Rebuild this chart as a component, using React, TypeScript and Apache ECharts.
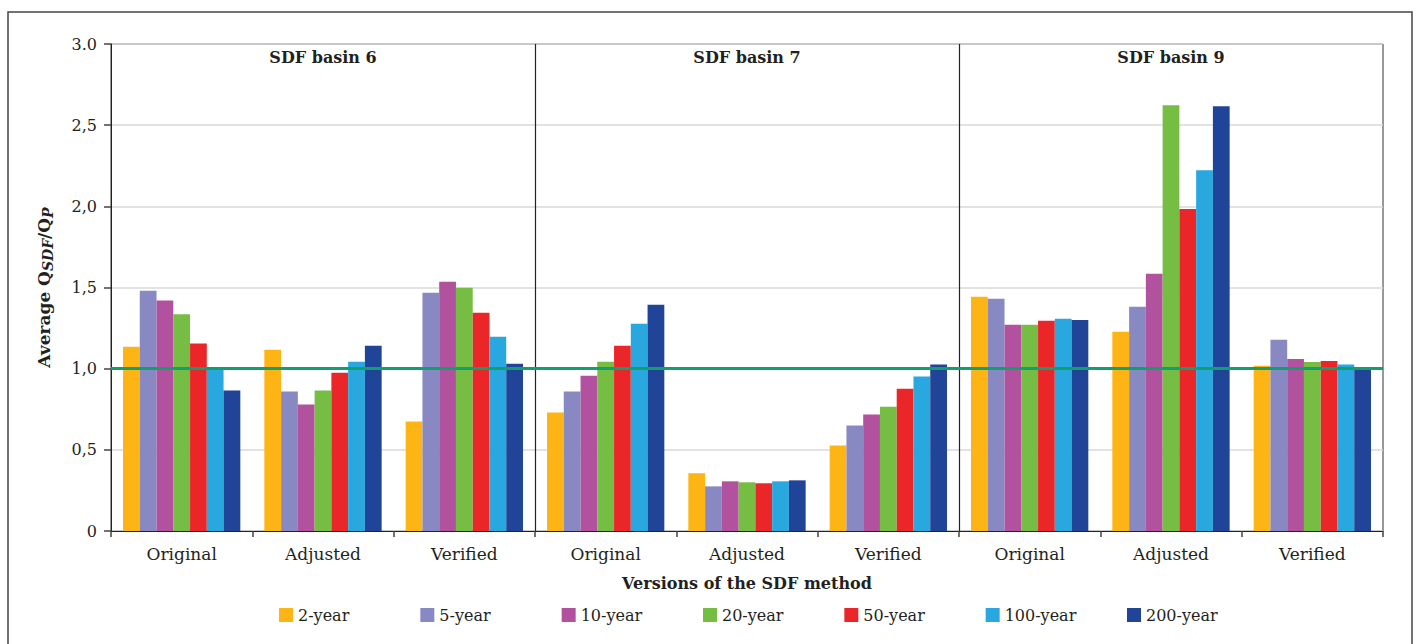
import React, { useEffect, useRef } from "react";
import * as echarts from "echarts";

const categories = [
  "Original", "Adjusted", "Verified",
  "Original", "Adjusted", "Verified",
  "Original", "Adjusted", "Verified",
];
const basinTitles = ["SDF basin 6", "SDF basin 7", "SDF basin 9"];
const seriesNames = ["2-year", "5-year", "10-year", "20-year", "50-year", "100-year", "200-year"];
const seriesColors = ["#FDB515", "#8888C2", "#B2529E", "#76BE43", "#EB2629", "#29A8E0", "#204497"];

// values per return period, across the 9 categories
const y2 = [1.135, 1.117, 0.674, 0.73, 0.355, 0.527, 1.443, 1.227, 1.018];
const y5 = [1.48, 0.859, 1.467, 0.859, 0.275, 0.65, 1.43, 1.381, 1.178];
const y10 = [1.42, 0.78, 1.535, 0.957, 0.306, 0.717, 1.27, 1.584, 1.06];
const y20 = [1.335, 0.865, 1.498, 1.043, 0.3, 0.766, 1.27, 2.622, 1.041];
const y50 = [1.155, 0.975, 1.344, 1.141, 0.294, 0.877, 1.295, 1.984, 1.047];
const y100 = [1.005, 1.043, 1.197, 1.277, 0.306, 0.951, 1.307, 2.222, 1.025];
const y200 = [0.865, 1.141, 1.031, 1.393, 0.312, 1.025, 1.3, 2.616, 1.006];
const seriesValues = [y2, y5, y10, y20, y50, y100, y200];

const yTickValues = [0, 0.5, 1, 1.5, 2, 2.5, 3];
const yTickLabels = ["0", "0,5", "1,0", "1,5", "2,0", "2,5", "3.0"];
const referenceValue = 1.0;
const basinBoundaries = [3, 6];

const FONT = "DejaVu Serif";
const TEXT = "#231f20";

const GRID = { left: 111, top: 44, right: 36, bottom: 113 };
const W = 1419;
const H = 644;

export default function App() {
  const ref = useRef<HTMLDivElement>(null);
  useEffect(() => {
    if (!ref.current) return;
    const chart = echarts.init(ref.current, null, { renderer: "svg" });
    const plotW = W - GRID.left - GRID.right;
    const third = plotW / 3;
    const catW = plotW / categories.length;

    const barSeries = seriesNames.map((name, i) => ({
      name,
      type: "bar",
      xAxisIndex: 0,
      yAxisIndex: 0,
      data: seriesValues[i],
      itemStyle: { color: seriesColors[i] },
      barGap: "0%",
      barCategoryGap: "17%",
      z: 2,
    }));

    const legends = seriesNames.map((name, i) => ({
      data: [name],
      left: 274 + i * catW,
      top: 602,
      icon: "rect",
      itemWidth: 14,
      itemHeight: 14,
      textStyle: { fontFamily: FONT, fontSize: 16, color: TEXT },
      selectedMode: false,
    }));

    const option: any = {
      animation: false,
      backgroundColor: "#ffffff",
      textStyle: { fontFamily: FONT, color: TEXT },
      grid: {
        left: GRID.left,
        top: GRID.top,
        right: GRID.right,
        bottom: GRID.bottom,
        show: true,
        borderColor: "#333",
        borderWidth: 1,
        backgroundColor: "transparent",
      },
      legend: legends,
      xAxis: [
        {
          type: "category",
          data: categories,
          axisLine: { show: true, lineStyle: { color: "#222", width: 1 } },
          axisTick: { show: true, alignWithLabel: false, length: 6, lineStyle: { color: "#444", width: 1.5 } },
          axisLabel: { fontFamily: FONT, fontSize: 17, color: TEXT, margin: 14 },
          name: "Versions of the SDF method",
          nameLocation: "middle",
          nameGap: 44,
          nameTextStyle: { fontFamily: FONT, fontSize: 16, fontWeight: "bold", color: TEXT },
        },
        {
          type: "value",
          min: 0,
          max: 9,
          show: false,
        },
      ],
      yAxis: {
        type: "value",
        min: 0,
        max: 3,
        interval: 0.5,
        axisLine: { show: true, lineStyle: { color: "#222", width: 1 } },
        axisTick: { show: true, length: 7, lineStyle: { color: "#444", width: 1.5 } },
        axisLabel: {
          fontFamily: FONT,
          fontSize: 16,
          color: TEXT,
          margin: 14,
          formatter: (v: number) => {
            const idx = yTickValues.findIndex((t) => Math.abs(t - v) < 1e-9);
            return idx >= 0 ? yTickLabels[idx] : "";
          },
        },
        splitLine: { show: true, lineStyle: { color: "#d9d9d9", width: 1.5 } },
        name: "{a|Average Q}{s|SDF}{a|/Q}{s|P}",
        nameLocation: "middle",
        nameGap: 56,
        nameRotate: 90,
        nameTextStyle: {
          rich: {
            a: { fontFamily: FONT, fontSize: 17, fontWeight: "bold", color: TEXT },
            s: { fontFamily: FONT, fontSize: 14, fontWeight: "bold", fontStyle: "italic", color: TEXT, padding: [9, 0, 0, 0] },
          },
        },
      },
      series: [
        ...barSeries,
        {
          name: "refs",
          type: "line",
          xAxisIndex: 1,
          yAxisIndex: 0,
          data: [],
          z: 10,
          silent: true,
          markLine: {
            silent: true,
            symbol: "none",
            label: { show: false },
            animation: false,
            data: [
              ...basinBoundaries.map((b) => ({ xAxis: b, lineStyle: { color: "#222", width: 1.2, type: "solid" } })),
              { yAxis: referenceValue, lineStyle: { color: "#10A070", width: 3, type: "solid" } },
            ],
          },
        },
      ],
      graphic: [
        {
          type: "rect",
          shape: { x: 8, y: 12, width: 1404, height: 700 },
          style: { fill: "none", stroke: "#444", lineWidth: 1.5 },
          silent: true,
          z: -1,
        },
        ...basinTitles.map((t, i) => ({
          type: "text",
          x: GRID.left + third * (i + 0.5),
          y: 57,
          style: {
            text: t,
            fontFamily: FONT,
            fontSize: 16,
            fontWeight: "bold",
            fill: TEXT,
            align: "center",
            verticalAlign: "middle",
          },
          z: 20,
        })),
      ],
    };
    chart.setOption(option);
    return () => chart.dispose();
  }, []);
  return (
    <div
      ref={ref}
      style={{ position: "absolute", left: 0, top: 0, width: W, height: H }}
    />
  );
}
